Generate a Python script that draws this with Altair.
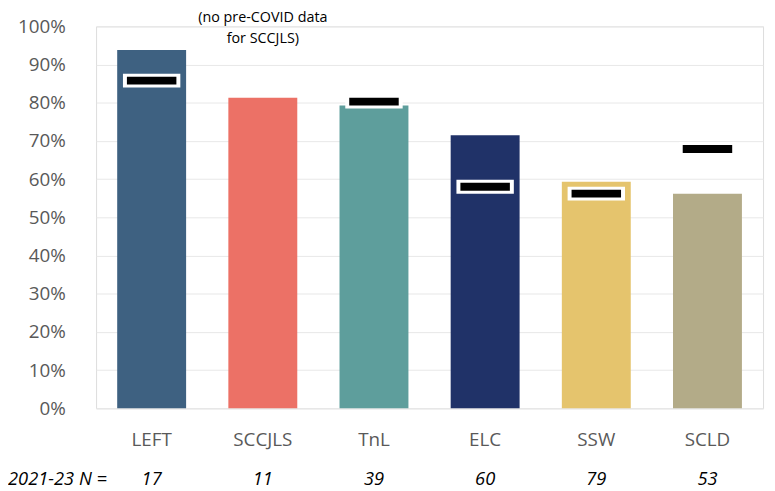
import altair as alt
import pandas as pd

categories = ["LEFT", "SCCJLS", "TnL", "ELC", "SSW", "SCLD"]
values_2021_23 = [0.938, 0.813, 0.793, 0.715, 0.593, 0.562]
pre_covid = [0.858, None, 0.803, 0.580, 0.562, 0.679]
n_values = ["17", "11", "39", "60", "79", "53"]
colors = ["#3e6181", "#ec7166", "#5e9e9c", "#203268", "#e5c46d", "#b3ab88"]
y_ticks = [0.0, 0.1, 0.2, 0.3, 0.4, 0.5, 0.6, 0.7, 0.8, 0.9, 1.0]
n_label = "2021-23 N ="
note = ["(no pre-COVID data", "for SCCJLS)"]
note_category = "SCCJLS"

df = pd.DataFrame({"cat": categories, "val": values_2021_23, "pre": pre_covid, "n": n_values})
df_pre = df.dropna(subset=["pre"])

FONT = "Open Sans"
x = alt.X("cat:N", sort=categories, scale=alt.Scale(paddingInner=0.38, paddingOuter=0.19),
          axis=alt.Axis(title=None, labelAngle=0, labelFontSize=19, labelColor="#595959",
                        labelFont=FONT, domain=False, ticks=False, labelPadding=23))

y_axis = alt.Axis(title=None, format=".0%", values=y_ticks, tickCount=11,
                  labelFontSize=19, labelColor="#595959", labelFont=FONT,
                  labelOverlap=False, labelBound=False,
                  domain=False, ticks=False, labelPadding=31,
                  gridColor="#e8e8e8", gridWidth=1)
y_scale = alt.Scale(domain=[0, 1], nice=False)

bars = alt.Chart(df).mark_bar().encode(
    x=x,
    y=alt.Y("val:Q", scale=y_scale, axis=y_axis),
    color=alt.Color("cat:N", sort=categories, scale=alt.Scale(domain=categories, range=colors), legend=None),
)

tick_white = alt.Chart(df_pre).mark_tick(color="white", size=58, thickness=14, opacity=1).encode(
    x=alt.X("cat:N", sort=categories), y=alt.Y("pre:Q", scale=y_scale, axis=y_axis))
tick_black = alt.Chart(df_pre).mark_tick(color="black", size=50, thickness=8, opacity=1).encode(
    x=alt.X("cat:N", sort=categories), y=alt.Y("pre:Q", scale=y_scale, axis=y_axis))

n_text = alt.Chart(df).mark_text(fontSize=18.5, fontStyle="italic", font=FONT, color="black",
                                 baseline="middle").encode(
    x=alt.X("cat:N", sort=categories), y=alt.value(457), text="n:N")

n_lab = alt.Chart(pd.DataFrame({"t": [n_label]})).mark_text(
    fontSize=18.5, fontStyle="italic", font=FONT, color="black", align="left", baseline="middle").encode(
    x=alt.value(-89), y=alt.value(457), text="t:N")

note_df = pd.DataFrame({"cat": [note_category], "t": [note]})
note_text = alt.Chart(note_df).mark_text(fontSize=14.5, font=FONT, color="black", baseline="middle",
                                         lineHeight=21).encode(
    x=alt.X("cat:N", sort=categories), y=alt.value(-8), text="t")

chart = alt.layer(bars, tick_white, tick_black, n_text, n_lab, note_text).properties(
    width=674, height=386,
    autosize=alt.AutoSizeParams(type="none"),
    padding={"left": 89, "top": 16, "right": 4, "bottom": 81},
).configure_view(stroke=None).configure(background="white")

chart.save("out.html", embed_options={"renderer": "svg", "actions": False})
